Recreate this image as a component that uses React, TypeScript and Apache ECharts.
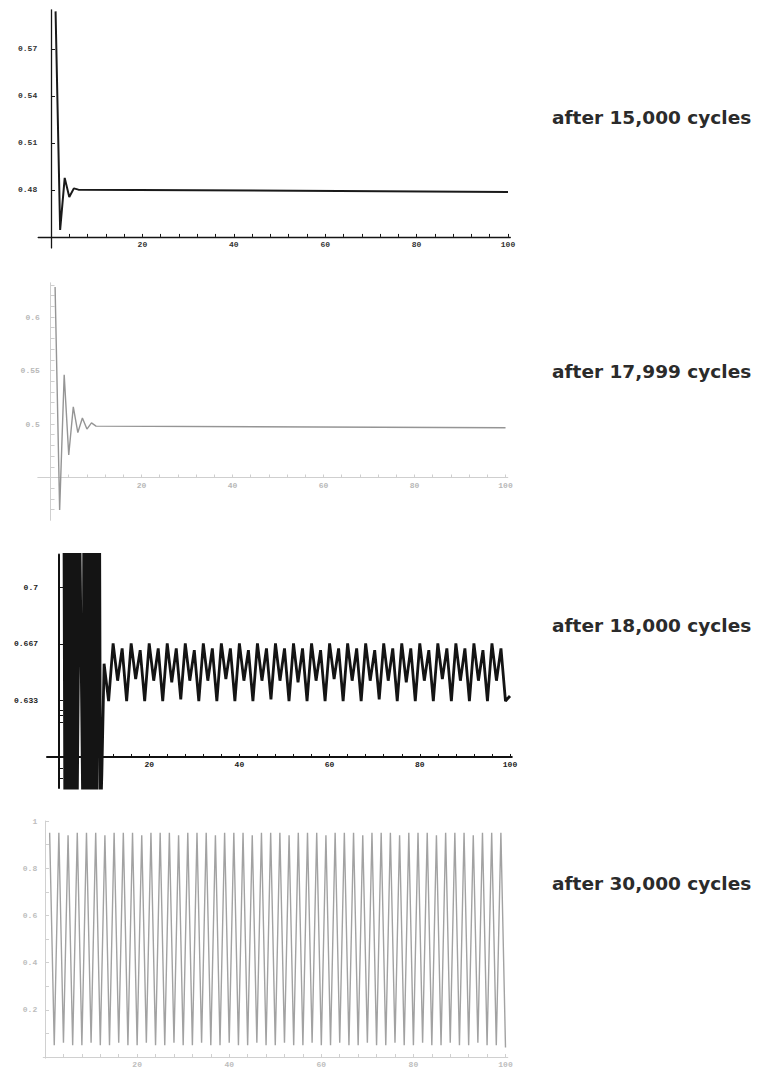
import React, { useEffect, useRef } from "react";
import * as echarts from "echarts";

// ---------- text ----------
const CYCLE_LABELS = [
  "after 15,000 cycles",
  "after 17,999 cycles",
  "after 18,000 cycles",
  "after 30,000 cycles",
];

// ---------- ticks ----------
const X_LABEL_VALUES = [20, 40, 60, 80, 100];
const X_MINOR_TICKS = [4, 8, 12, 16, 20, 24, 28, 32, 36, 40, 44, 48, 52, 56, 60, 64, 68, 72, 76, 80, 84, 88, 92, 96, 100];
const P1_Y_TICKS = [0.48, 0.51, 0.54, 0.57];
const P2_Y_TICKS = [0.5, 0.55, 0.6];
const P2_Y_MINOR = [0.42, 0.43, 0.44, 0.46, 0.47, 0.48, 0.49, 0.5, 0.51, 0.52, 0.53, 0.54, 0.55, 0.56, 0.57, 0.58, 0.59, 0.6, 0.61, 0.62, 0.63];
const P3_Y_TICKS = [0.6333, 0.6667, 0.7];
const P3_Y_MINOR = [0.5876, 0.5935, 0.6206, 0.6248, 0.6277, 0.6333, 0.6667, 0.7];
const P4_Y_TICKS = [0.2, 0.4, 0.6, 0.8, 1];
const P4_Y_MINOR = [0.1, 0.2, 0.3, 0.4, 0.5, 0.6, 0.7, 0.8, 0.9, 1];

// ---------- data: [cycle, output] ----------
const P1_VALUES = [
  [1, 0.594], [2, 0.4545], [3, 0.4877], [4, 0.4755], [5, 0.481], [6, 0.4802], [100, 0.4787],
];

const P2_VALUES = [
  [1, 0.628], [2, 0.4196], [3, 0.546], [4, 0.471], [5, 0.516], [6, 0.492], [7, 0.5056],
  [8, 0.4953], [9, 0.501], [10, 0.498], [100, 0.4965],
];

const P3_TRANSIENT = [
  [1.1, 0.74], [1.3, 0.56], [1.5, 0.74], [1.7, 0.56], [1.9, 0.74], [2.1, 0.56], [2.3, 0.74],
  [2.5, 0.56], [2.7, 0.74], [2.9, 0.56], [3.1, 0.74], [3.3, 0.56], [3.5, 0.74], [3.7, 0.56],
  [3.9, 0.74], [4.0, 0.56], [4.6, 0.74], [5.3, 0.56], [5.5, 0.74], [5.7, 0.56], [5.9, 0.74],
  [6.1, 0.56], [6.3, 0.74], [6.5, 0.56], [6.7, 0.74], [6.9, 0.56], [7.1, 0.74], [7.3, 0.56],
  [7.5, 0.74], [7.7, 0.56], [7.9, 0.74], [8.1, 0.56], [8.3, 0.74], [8.4, 0.56], [9.0, 0.74],
  [9.2, 0.56], [9.5, 0.59],
];
const P3_BAND_START = 10;
const P3_BAND = [
  0.655, 0.633, 0.667, 0.645, 0.664, 0.633, 0.667, 0.646, 0.663, 0.633, 0.667, 0.645,
  0.664, 0.633, 0.667, 0.644, 0.664, 0.634, 0.667, 0.645, 0.663, 0.633, 0.667, 0.645,
  0.664, 0.633, 0.667, 0.646, 0.664, 0.633, 0.667, 0.645, 0.663, 0.633, 0.667, 0.645,
  0.664, 0.634, 0.667, 0.645, 0.664, 0.633, 0.667, 0.644, 0.664, 0.633, 0.667, 0.645,
  0.663, 0.633, 0.667, 0.646, 0.664, 0.633, 0.667, 0.645, 0.664, 0.633, 0.667, 0.645,
  0.663, 0.634, 0.667, 0.645, 0.664, 0.633, 0.667, 0.644, 0.664, 0.633, 0.667, 0.645,
  0.663, 0.633, 0.667, 0.646, 0.664, 0.633, 0.667, 0.645, 0.664, 0.633, 0.667, 0.645,
  0.663, 0.633, 0.667, 0.645, 0.664, 0.633, 0.636,
];

const P4_START = 1;
const P4_VALUES = [
  0.95, 0.05, 0.95, 0.06, 0.94, 0.05, 0.95, 0.05, 0.95, 0.06, 0.95, 0.05, 0.94, 0.05,
  0.95, 0.06, 0.95, 0.05, 0.95, 0.05, 0.94, 0.06, 0.95, 0.05, 0.95, 0.05, 0.95, 0.06,
  0.94, 0.05, 0.95, 0.05, 0.95, 0.06, 0.95, 0.05, 0.94, 0.05, 0.95, 0.06, 0.95, 0.05,
  0.95, 0.05, 0.94, 0.06, 0.95, 0.05, 0.95, 0.05, 0.95, 0.06, 0.94, 0.05, 0.95, 0.05,
  0.95, 0.06, 0.95, 0.05, 0.94, 0.05, 0.95, 0.06, 0.95, 0.05, 0.95, 0.05, 0.94, 0.06,
  0.95, 0.05, 0.95, 0.05, 0.95, 0.06, 0.94, 0.05, 0.95, 0.05, 0.95, 0.06, 0.95, 0.05,
  0.94, 0.05, 0.95, 0.06, 0.95, 0.05, 0.95, 0.05, 0.94, 0.06, 0.95, 0.05, 0.95, 0.05,
  0.95, 0.04,
];

// ---------- layout / style (not data) ----------
type Panel = {
  left: number; width: number; top: number; height: number;
  xMin: number; xMax: number; yMin: number; yMax: number; cross: number;
  axisColor: string; axisWidth: number; labelColor: string;
  lineColor: string; lineWidth: number;
  yTicks: number[]; yMinor: number[]; yFmt: (v: number) => string;
  textTop: number; xLabelMargin: number; yLabelMargin: number;
};

const fmtTrim = (v: number) => String(parseFloat(v.toFixed(3)));

const PANELS: Panel[] = [
  {
    left: 38.2, width: 472.1, top: 9.8, height: 238.1,
    xMin: -2.8, xMax: 100.5, yMin: 0.443, yMax: 0.595, cross: 0.45,
    axisColor: "#151515", axisWidth: 1.3, labelColor: "#333",
    lineColor: "#1a1a1a", lineWidth: 2,
    yTicks: P1_Y_TICKS, yMinor: P1_Y_TICKS, yFmt: (v) => v.toFixed(2),
    textTop: 108, xLabelMargin: 4, yLabelMargin: 1,
  },
  {
    left: 37.8, width: 470, top: 282.8, height: 237.5,
    xMin: -2.8, xMax: 100.5, yMin: 0.41, yMax: 0.632, cross: 0.45,
    axisColor: "#cfcfcf", axisWidth: 1, labelColor: "#b8b8b8",
    lineColor: "#959595", lineWidth: 1.4,
    yTicks: P2_Y_TICKS, yMinor: P2_Y_MINOR, yFmt: fmtTrim,
    textTop: 362, xLabelMargin: 4, yLabelMargin: -2,
  },
  {
    left: 47, width: 464.8, top: 554.4, height: 233.6,
    xMin: -2.66, xMax: 100.4, yMin: 0.5817, yMax: 0.7195, cross: 0.6,
    axisColor: "#111", axisWidth: 2, labelColor: "#222",
    lineColor: "#141414", lineWidth: 2.8,
    yTicks: P3_Y_TICKS, yMinor: P3_Y_MINOR, yFmt: fmtTrim,
    textTop: 616, xLabelMargin: 4, yLabelMargin: 9,
  },
  {
    left: 43.2, width: 464.6, top: 821, height: 237.2,
    xMin: -0.4, xMax: 100.5, yMin: -0.005, yMax: 1.0, cross: 0,
    axisColor: "#d0d0d0", axisWidth: 1, labelColor: "#bdbdbd",
    lineColor: "#a2a2a2", lineWidth: 1.4,
    yTicks: P4_Y_TICKS, yMinor: P4_Y_MINOR, yFmt: fmtTrim,
    textTop: 874, xLabelMargin: 2, yLabelMargin: 6,
  },
];

function buildSeriesData(): number[][][] {
  const s3 = [
    ...P3_TRANSIENT,
    ...P3_BAND.map((v, i) => [P3_BAND_START + i, v]),
  ];
  const s4 = P4_VALUES.map((v, i) => [P4_START + i, v]);
  return [P1_VALUES, P2_VALUES, s3, s4];
}

export default function App() {
  const ref = useRef<HTMLDivElement>(null);

  useEffect(() => {
    if (!ref.current) return;
    const chart = echarts.init(ref.current, undefined, { renderer: "svg" });
    const seriesData = buildSeriesData();
    const labelFont = "Liberation Mono";

    const grid = PANELS.map((p) => ({
      left: p.left, top: p.top, width: p.width, height: p.height,
      containLabel: false, outerBoundsMode: "none",
    }));

    const xAxis = PANELS.map((p, i) => {
      const crossesZero = p.yMin <= 0 && p.yMax >= 0;
      const offset = crossesZero ? 0 : -((p.cross - p.yMin) / (p.yMax - p.yMin)) * p.height;
      return {
        type: "value", gridIndex: i, min: p.xMin, max: p.xMax, offset,
        axisLine: { show: true, onZero: true, lineStyle: { color: p.axisColor, width: p.axisWidth } },
        axisTick: { show: true, inside: true, length: 3, customValues: X_MINOR_TICKS,
          lineStyle: { color: p.axisColor, width: 1 } },
        axisLabel: { show: true, customValues: X_LABEL_VALUES, margin: p.xLabelMargin, fontSize: 8,
          fontFamily: labelFont, color: p.labelColor, fontWeight: "bold" },
        splitLine: { show: false },
      };
    });

    const yAxis = PANELS.map((p, i) => ({
      type: "value", gridIndex: i, min: p.yMin, max: p.yMax,
      axisLine: { show: true, onZero: true, lineStyle: { color: p.axisColor, width: p.axisWidth } },
      axisTick: { show: true, inside: true, length: 4, customValues: p.yMinor,
        lineStyle: { color: p.axisColor, width: 1 } },
      axisLabel: { show: true, customValues: p.yTicks, margin: p.yLabelMargin, fontSize: 8,
        fontFamily: labelFont, color: p.labelColor, fontWeight: "bold",
        formatter: (v: number) => p.yFmt(v) },
      splitLine: { show: false },
    }));

    const series = PANELS.map((p, i) => ({
      type: "line", xAxisIndex: i, yAxisIndex: i, data: seriesData[i],
      showSymbol: false, symbol: "none", clip: true,
      lineStyle: { color: p.lineColor, width: p.lineWidth },
      emphasis: { disabled: true },
    }));

    const graphic = PANELS.map((p, i) => ({
      type: "text", left: 552, top: p.textTop,
      style: { text: CYCLE_LABELS[i], fontFamily: "DejaVu Sans", fontSize: 18.5,
        fontWeight: "bold", fill: "#2b2b2b" },
    }));

    chart.setOption({
      animation: false,
      backgroundColor: "#ffffff",
      grid, xAxis, yAxis, series, graphic,
    });
    return () => chart.dispose();
  }, []);

  return (
    <div
      ref={ref}
      style={{ position: "absolute", left: 0, top: 0, width: 757, height: 1073 }}
    />
  );
}
